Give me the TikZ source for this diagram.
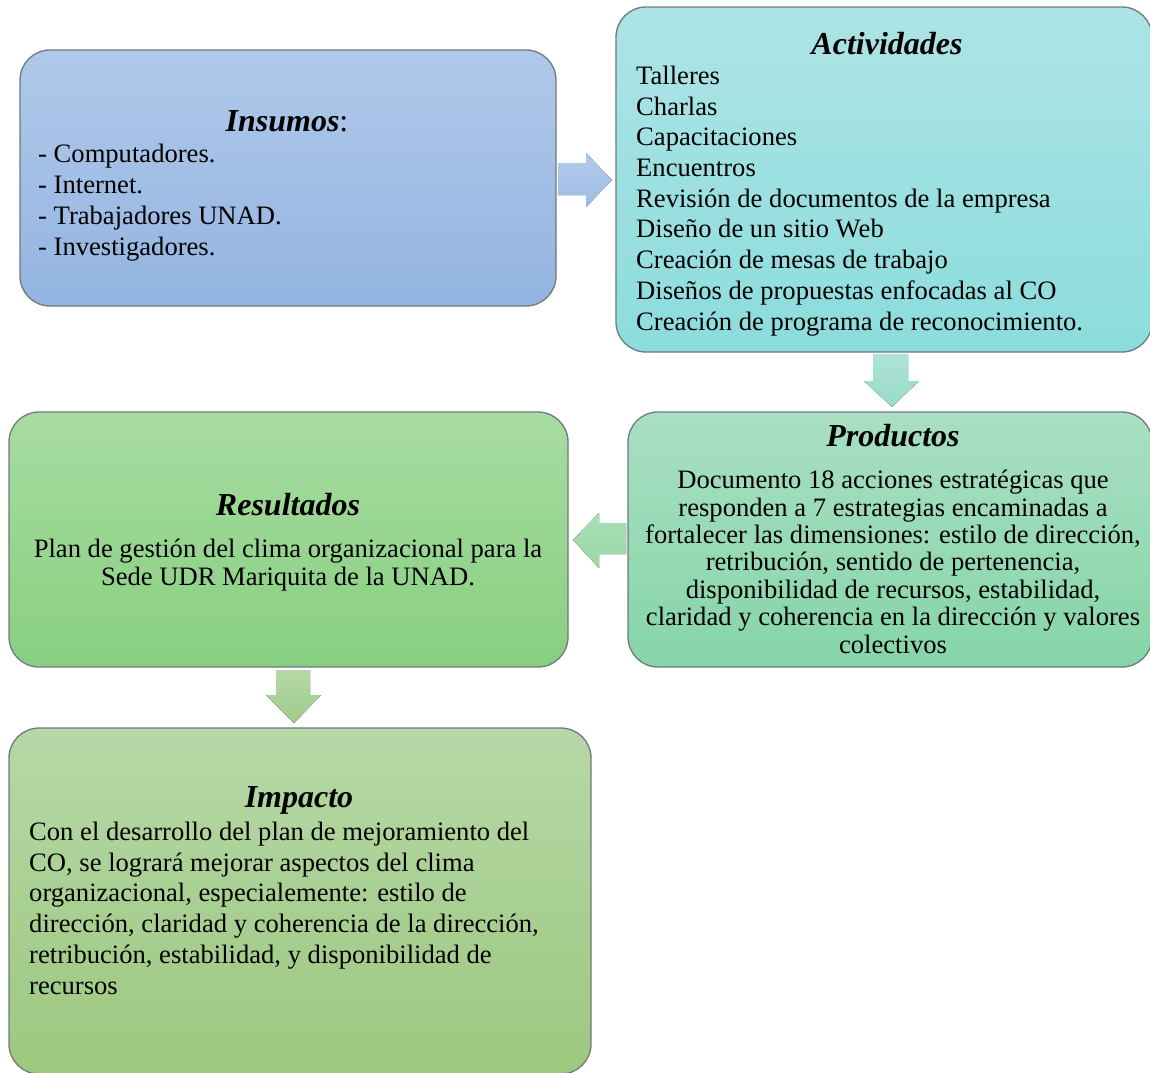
\documentclass[tikz,border=0pt]{standalone}
\usepackage{fontspec}
\setmainfont{Liberation Serif}
\definecolor{boxline}{HTML}{707880}
\definecolor{insT}{HTML}{B0C9E9}
\definecolor{insB}{HTML}{93B4E1}
\definecolor{actT}{HTML}{AEE4E6}
\definecolor{actB}{HTML}{8CDCDC}
\definecolor{proT}{HTML}{A9DFC2}
\definecolor{proB}{HTML}{86D5A8}
\definecolor{resT}{HTML}{A8DCA2}
\definecolor{resB}{HTML}{88CF80}
\definecolor{impT}{HTML}{B6D8A7}
\definecolor{impB}{HTML}{9CC87F}
\definecolor{aOneT}{HTML}{B2CBEB}
\definecolor{aOneB}{HTML}{9DBBE3}
\definecolor{aTwoT}{HTML}{AEE3D8}
\definecolor{aTwoB}{HTML}{99DBC6}
\definecolor{aThrT}{HTML}{A8DFB6}
\definecolor{aThrB}{HTML}{9BD8A6}
\definecolor{aFouT}{HTML}{B6D8A6}
\definecolor{aFouB}{HTML}{9FCB8A}
\begin{document}
\begin{tikzpicture}[x=1pt,y=-1pt,
  box/.style={draw=boxline, line width=1.3pt, rounded corners=30pt, inner sep=0pt},
  body/.style={font=\fontsize{26.6}{30.7}\selectfont, inner sep=0pt},
  ttl/.style={font=\fontsize{32}{36}\selectfont\bfseries\itshape, inner sep=0pt}]
\clip (0,0) rectangle (1150,1072);
% boxes
\node[box, top color=insT, bottom color=insB, minimum width=536pt, minimum height=256pt] (ins) at (288,178) {};
\node[box, top color=actT, bottom color=actB, minimum width=536pt, minimum height=345pt] (act) at (884,179.5) {};
\node[box, top color=proT, bottom color=proB, minimum width=524pt, minimum height=255pt] (pro) at (890,539.5) {};
\node[box, top color=resT, bottom color=resB, minimum width=559pt, minimum height=255pt] (res) at (288.5,539.5) {};
\node[box, top color=impT, bottom color=impB, minimum width=582pt, minimum height=346pt] (imp) at (300,901) {};
% block arrows
\fill[top color=aOneT, bottom color=aOneB] (558,163) -- (586,163) -- (586,153) -- (612,180) -- (586,207) -- (586,195) -- (558,195) -- cycle;
\fill[top color=aTwoT, bottom color=aTwoB] (873,354) -- (908,354) -- (908,381) -- (919,381) -- (892,407) -- (864,381) -- (873,381) -- cycle;
\fill[top color=aThrT, bottom color=aThrB] (626,523) -- (599,523) -- (599,513) -- (573,540) -- (599,568) -- (599,554) -- (626,554) -- cycle;
\fill[top color=aFouT, bottom color=aFouB] (276,670) -- (310,670) -- (310,695) -- (321,695) -- (294,723) -- (266,695) -- (276,695) -- cycle;
% texts (base anchor = baseline of the last line)
\node[ttl, anchor=base] (insTtl) at (287,131) {Insumos{\mdseries\upshape :}};
\node[body, anchor=base west, align=left] (insTxt) at (38,255) {- Computadores.\\- Internet.\\- Trabajadores UNAD.\\- Investigadores.};
\node[ttl, anchor=base] (actTtl) at (887,54) {Actividades};
\node[body, anchor=base west, align=left] (actTxt) at (636,330) {Talleres\\Charlas\\Capacitaciones\\Encuentros\\Revisión de documentos de la empresa\\Diseño de un sitio Web\\Creación de mesas de trabajo\\Diseños de propuestas enfocadas al CO\\Creación de programa de reconocimiento.};
\node[ttl, anchor=base] (proTtl) at (893,446) {Productos};
\node[body, font=\fontsize{26.6}{27.4}\selectfont, anchor=base, align=center] (proTxt) at (893,653) {Documento 18 acciones estratégicas que\\responden a 7 estrategias encaminadas a\\fortalecer las dimensiones: estilo de dirección,\\retribución, sentido de pertenencia,\\disponibilidad de recursos, estabilidad,\\claridad y coherencia en la dirección y valores\\colectivos};
\node[ttl, anchor=base] (resTtl) at (288,515) {Resultados};
\node[body, font=\fontsize{26.6}{27.4}\selectfont, anchor=base, align=center] (resTxt) at (288,585) {Plan de gestión del clima organizacional para la\\Sede UDR Mariquita de la UNAD.};
\node[ttl, anchor=base] (impTtl) at (299,807) {Impacto};
\node[body, anchor=base west, align=left] (impTxt) at (29,994) {Con el desarrollo del plan de mejoramiento del\\CO, se logrará mejorar aspectos del clima\\organizacional, especialemente: estilo de\\dirección, claridad y coherencia de la dirección,\\retribución, estabilidad, y disponibilidad de\\recursos};
\end{tikzpicture}
\end{document}
